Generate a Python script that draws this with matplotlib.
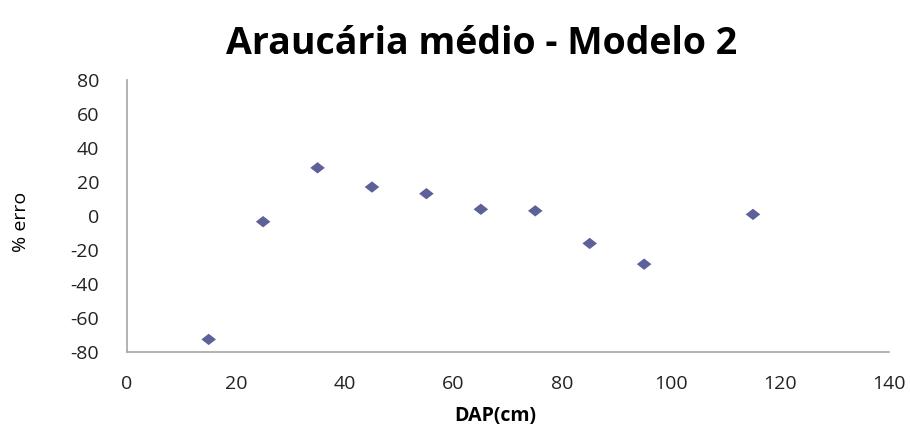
import matplotlib
matplotlib.use("Agg")
import matplotlib.pyplot as plt
from matplotlib.path import Path

dap = [15, 25, 35, 45, 55, 65, 75, 85, 95, 115]
erro = [-72.7, -3.4, 28.3, 17.0, 13.1, 3.9, 3.0, -16.2, -28.4, 0.9]
xticks = [0, 20, 40, 60, 80, 100, 120, 140]
yticks = [-80, -60, -40, -20, 0, 20, 40, 60, 80]

plt.rcParams['font.family'] = ['Open Sans', 'DejaVu Sans']
plt.rcParams['axes.unicode_minus'] = False

fig = plt.figure(figsize=(9.1, 4.28), dpi=100)
ax = fig.add_axes([0.1396, 0.178, 0.977 - 0.1396, 0.813 - 0.178])

diamond = Path([(-1, 0), (0, 0.78), (1, 0), (0, -0.78), (-1, 0)],
               [Path.MOVETO, Path.LINETO, Path.LINETO, Path.LINETO, Path.CLOSEPOLY])
ax.scatter(dap, erro, marker=diamond, s=110, color='#5E6199', edgecolors='none', zorder=3)

ax.set_xlim(0, 140)
ax.set_ylim(-80, 80)
ax.set_xticks(xticks)
ax.set_yticks(yticks)
ax.tick_params(length=0, labelsize=14, colors='#222222')
ax.tick_params(axis='y', pad=20)
ax.tick_params(axis='x', pad=17)
for s in ['top', 'right']:
    ax.spines[s].set_visible(False)
for s in ['left', 'bottom']:
    ax.spines[s].set_color('#A6A6A6')
    ax.spines[s].set_linewidth(1.2)

ax.set_xlabel('DAP(cm)', fontsize=14, fontweight='bold')
ax.xaxis.set_label_coords((495 - 127) / (889 - 127), -(406 - 351.7) / 271.7)
ax.set_ylabel('% erro', fontsize=14)
ax.yaxis.set_label_coords(-(127 - 30) / 762, (351.7 - 222) / 271.7)
fig.text(0.529, 0.898, 'Araucária médio - Modelo 2', fontsize=27, fontweight='bold',
         ha='center', va='center')

fig.savefig('out.png', dpi=100, facecolor='white')
